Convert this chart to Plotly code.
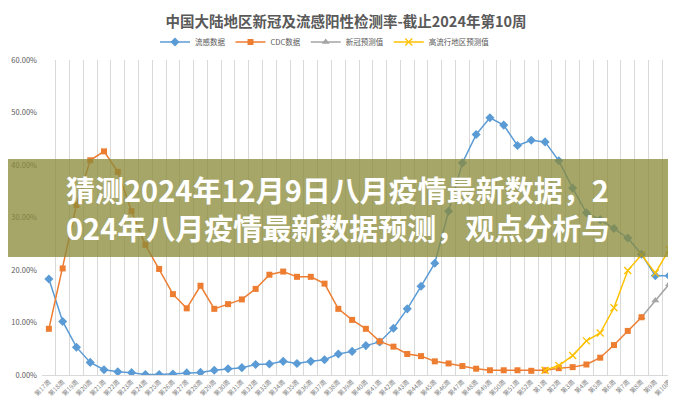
import plotly.graph_objects as go

weeks = ["第17周", "第18周", "第19周", "第20周", "第21周", "第22周", "第23周", "第24周",
         "第25周", "第26周", "第27周", "第28周", "第29周", "第30周", "第31周", "第32周",
         "第33周", "第34周", "第35周", "第36周", "第37周", "第38周", "第39周", "第40周",
         "第41周", "第42周", "第43周", "第44周", "第45周", "第46周", "第47周", "第48周",
         "第49周", "第50周", "第51周", "第52周", "第1周", "第2周", "第3周", "第4周",
         "第5周", "第6周", "第7周", "第8周", "第9周", "第10周"]

# percent values
flu = [18.3, 10.2, 5.3, 2.4, 1.0, 0.6, 0.45, 0.1, 0.1, 0.2,
       0.4, 0.5, 0.9, 1.2, 1.4, 2.0, 2.1, 2.6, 2.2, 2.6,
       2.9, 4.0, 4.5, 5.6, 6.3, 8.9, 12.6, 16.9, 21.3, 31.2,
       40.4, 45.8, 49.0, 47.6, 43.7, 44.7, 44.4, 40.8, 35.6, 30.9,
       29.6, 27.9, 26.1, 23.0, 18.9, 18.9]

cdc = [8.8, 20.3, 32.4, 40.9, 42.6, 38.7, 31.2, 24.8, 20.2, 15.4,
       12.7, 17.0, 12.6, 13.5, 14.4, 16.4, 19.1, 19.7, 18.7, 18.7,
       17.4, 12.6, 10.5, 8.8, 6.4, 5.4, 4.0, 3.6, 2.6, 2.2,
       1.7, 1.2, 0.9, 0.9, 0.9, 0.8, 0.9, 1.3, 1.5, 2.0,
       3.3, 5.7, 8.4, 11.0, None, None]

covid_pred = [None, None, None, None, None, None, None, None, None, None,
              None, None, None, None, None, None, None, None, None, None,
              None, None, None, None, None, None, None, None, None, None,
              None, None, None, None, None, None, None, None, None, None,
              None, None, None, 11.0, 14.2, 17.3]

high_pred = [None, None, None, None, None, None, None, None, None, None,
             None, None, None, None, None, None, None, None, None, None,
             None, None, None, None, None, None, None, None, None, None,
             None, None, None, None, None, None, 0.9, 1.8, 3.7, 6.5,
             8.0, 12.8, 19.9, 22.9, 19.4, 23.9]

series_names = ["流感数据", "CDC数据", "新冠预测值", "高流行地区预测值"]
title_text = "中国大陆地区新冠及流感阳性检测率-截止2024年第10周"
banner_line1 = "猜测2024年12月9日八月疫情最新数据，2"
banner_line2 = "024年八月疫情最新数据预测，观点分析与"

FONT = "Noto Sans CJK SC"


def frac(vals):
    return [None if v is None else v / 100 for v in vals]


fig = go.Figure()
# gray prediction drawn first so the orange square sits on top at the join
fig.add_trace(go.Scatter(x=weeks, y=frac(covid_pred), name=series_names[2], mode="lines+markers",
                         line=dict(color="#A5A5A5", width=1.5),
                         marker=dict(symbol="triangle-up", size=7, color="#A5A5A5"),
                         legendrank=3))
fig.add_trace(go.Scatter(x=weeks, y=frac(flu), name=series_names[0], mode="lines+markers",
                         line=dict(color="#5B9BD5", width=1.5),
                         marker=dict(symbol="diamond", size=7, color="#5B9BD5"),
                         legendrank=1))
fig.add_trace(go.Scatter(x=weeks, y=frac(cdc), name=series_names[1], mode="lines+markers",
                         line=dict(color="#ED7D31", width=1.5),
                         marker=dict(symbol="square", size=6, color="#ED7D31"),
                         legendrank=2))
fig.add_trace(go.Scatter(x=weeks, y=frac(high_pred), name=series_names[3], mode="lines+markers",
                         line=dict(color="#FFC000", width=1.5),
                         marker=dict(symbol="x-thin-open", size=7,
                                     line=dict(color="#FFC000", width=1.3)),
                         legendrank=4))

# plot area: x 34..668, y 52..367 px
L, R, T, B = 34, 8, 52, 33
W, H = 676, 400
pw, ph = W - L - R, H - T - B


def px_x(x):
    return (x - L) / pw


def px_y(y):
    return (H - B - y) / ph


fig.update_layout(
    width=W, height=H,
    margin=dict(l=L, r=R, t=T, b=B),
    paper_bgcolor="white", plot_bgcolor="white",
    font=dict(family=FONT, color="#595959", size=8),
    title=dict(text="<b>" + title_text + "</b>", xref="container", x=0.5, xanchor="center",
               yref="container", y=1 - 14 / H, yanchor="middle",
               font=dict(size=14.5, color="#595959", family=FONT)),
    legend=dict(orientation="h", xref="container", x=317 / W, xanchor="center",
                yref="container", y=1 - 34 / H, yanchor="middle",
                font=dict(size=7.5, color="#595959"), itemwidth=30,
                bgcolor="rgba(0,0,0,0)", traceorder="normal"),
    showlegend=True,
)

fig.update_xaxes(type="category", tickson="boundaries", showgrid=True, gridcolor="#D9D9D9",
                 gridwidth=1, showline=True, linecolor="#D9D9D9", ticks="",
                 tickangle=-45, tickfont=dict(size=6.3, color="#7F7F7F"),
                 ticklabelstandoff=0,
                 automargin=False, zeroline=False, range=[-0.5, 45.5])
fig.update_yaxes(range=[0, 0.6], dtick=0.1, tickformat=".2%", showgrid=False,
                 zeroline=False, showline=False, ticks="",
                 tickfont=dict(size=7.5, color="#595959"), automargin=False,
                 ticklabelstandoff=4)

# translucent banner overlay
fig.add_shape(type="rect", xref="paper", yref="paper",
              x0=px_x(0), x1=px_x(W), y0=px_y(249), y1=px_y(151),
              fillcolor="rgba(138,138,58,0.76)", line=dict(width=0), layer="above")
fig.add_annotation(text="<b>" + banner_line1 + "</b><br><b>" + banner_line2 + "</b>",
                   xref="paper", yref="paper", align="left",
                   x=px_x(56), y=px_y(200), xanchor="left", yanchor="middle",
                   showarrow=False, font=dict(size=29, color="white", family=FONT))

fig.write_html("out.html")
